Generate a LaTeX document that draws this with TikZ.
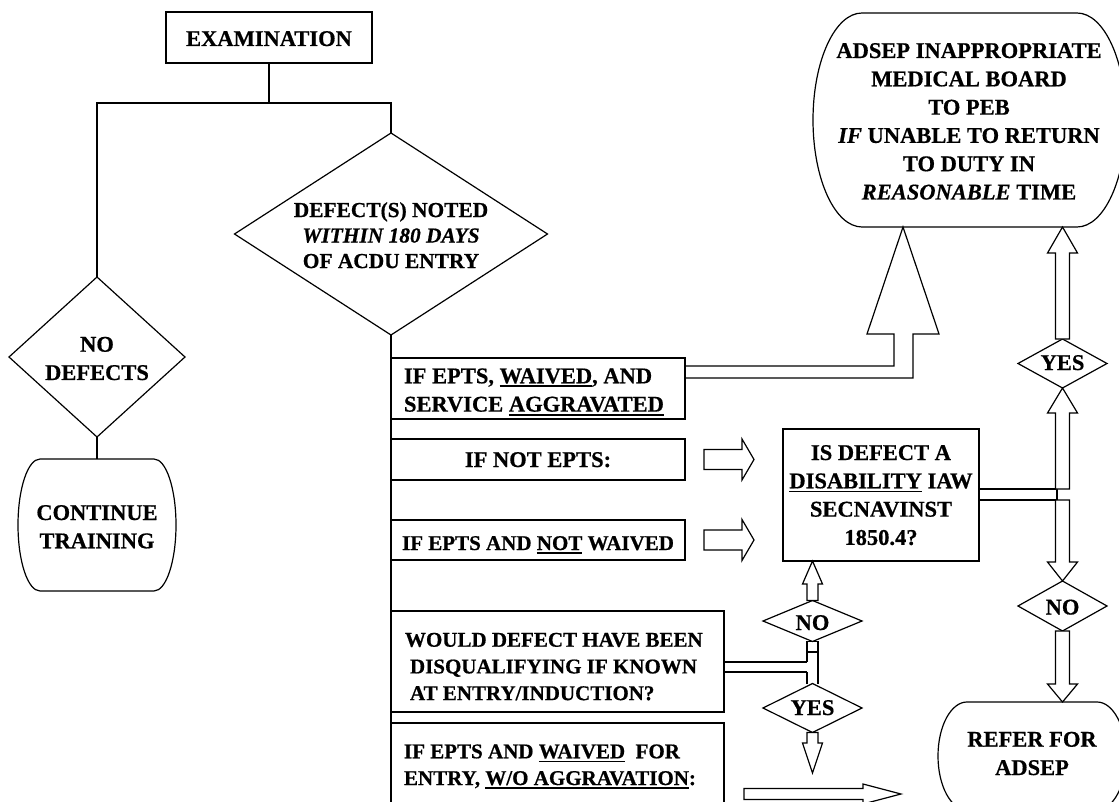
\documentclass[tikz,border=0pt]{standalone}
\usepackage{fontspec}
\setmainfont[FakeBold=0.6]{Liberation Serif}
\usetikzlibrary{shapes.geometric,calc}
\newsavebox{\ulbox}
\newcommand{\myul}[1]{\sbox{\ulbox}{#1}\rlap{\rule[-4pt]{\wd\ulbox}{1.8pt}}\usebox{\ulbox}}
\newcommand{\barrelshape}[5]{%
  \draw[blk] ({#1-#3+#5},{#2-#4}) -- ({#1+#3-#5},{#2-#4})
   .. controls ({#1+#3-#5+0.5523*#5},{#2-#4}) and ({#1+#3},{#2-0.5523*#4}) .. ({#1+#3},#2)
   .. controls ({#1+#3},{#2+0.5523*#4}) and ({#1+#3-#5+0.5523*#5},{#2+#4}) .. ({#1+#3-#5},{#2+#4})
   -- ({#1-#3+#5},{#2+#4})
   .. controls ({#1-#3+#5-0.5523*#5},{#2+#4}) and ({#1-#3},{#2+0.5523*#4}) .. ({#1-#3},#2)
   .. controls ({#1-#3},{#2-0.5523*#4}) and ({#1-#3+#5-0.5523*#5},{#2-#4}) .. ({#1-#3+#5},{#2-#4}) -- cycle;}
\newcommand{\vblock}[5]{\draw[blk] let \p1=(#1), \p2=(#2) in
  ({\x2-#3pt},\y1) -- ({\x2-#3pt},{\y2-(#5pt)}) -- ({\x2-#4pt},{\y2-(#5pt)}) -- (\x2,\y2)
  -- ({\x2+#4pt},{\y2-(#5pt)}) -- ({\x2+#3pt},{\y2-(#5pt)}) -- ({\x2+#3pt},\y1) -- cycle;}
\newcommand{\hblock}[5]{\draw[blk] let \p1=(#1), \p2=(#2) in
  (\x1,{\y2+#3pt}) -- ({\x2-#5pt},{\y2+#3pt}) -- ({\x2-#5pt},{\y2+#4pt}) -- (\x2,\y2)
  -- ({\x2-#5pt},{\y2-#4pt}) -- ({\x2-#5pt},{\y2-#3pt}) -- (\x1,{\y2-#3pt}) -- cycle;}
\tikzset{
  box/.style={draw, rectangle, inner sep=0pt, outer sep=0pt},
  dia/.style={draw, diamond, inner sep=0pt, outer sep=0pt},
  lbl/.style={inner sep=0pt, outer sep=0pt, align=center, font=\fontsize{22.5}{28.3}\selectfont\bfseries},
  lblsm/.style={lbl, font=\fontsize{21}{26.7}\selectfont\bfseries},
  blk/.style={draw, fill=white, line join=miter},
}
\begin{document}
\begin{tikzpicture}[x=1pt, y=-1pt, line width=1.2pt]
\useasboundingbox (0,0) rectangle (1119,802);
\clip (0,0) rectangle (1119,802);

% --- left branch
\node[box, minimum width=206pt, minimum height=51pt] (exam) at (269,37.5) {};
\node[lbl, anchor=base] (examtxt) at (269,46) {EXAMINATION};
\node[dia, minimum width=176pt, minimum height=160pt] (nod) at (97,357) {};
\node[lbl, anchor=north] (nodtxt) at (97,336.8) {NO\\DEFECTS};
\node[dia, minimum width=313pt, minimum height=202pt] (d1) at (391,234) {};
\node[lbl, anchor=north, font=\fontsize{21.4}{25.5}\selectfont\bfseries] (d1txt) at (391,202.2)
  {DEFECT(S) NOTED\\\textit{WITHIN 180 DAYS}\\OF ACDU ENTRY};
\barrelshape{97}{525}{79}{66}{22}
\coordinate (cont) at (97,525);
\coordinate (conttop) at (97,459);
\node[lbl, anchor=north] (conttxt) at (97,505.1) {CONTINUE\\TRAINING};

\coordinate (split) at (269,103);
\draw (exam.south) -- (split);
\draw (nod.north) |- (split) -| (d1.north);
\draw (nod.south) -- (conttop);
\coordinate (trunkend) at (391,830);
\draw (d1.south) -- (trunkend);

% --- condition boxes
\node[box, minimum width=294pt, minimum height=61pt] (b1) at (538,388.5) {};
\node[box, minimum width=294pt, minimum height=41pt] (b2) at (538,459.5) {};
\node[box, minimum width=294pt, minimum height=40pt] (b3) at (538,540) {};
\node[box, minimum width=333pt, minimum height=101pt] (b4) at (557.5,661.5) {};
\node[box, minimum width=333pt, minimum height=120pt] (b5) at (557.5,783) {};
\node[box, minimum width=196pt, minimum height=132pt] (isdef) at (881,495) {};

\node[lbl, anchor=north west, align=left] (b1txt) at (404,368.4)
  {IF EPTS, \myul{WAIVED}, AND\\SERVICE \myul{AGGRAVATED}};
\node[lbl, anchor=base] (b2txt) at (538,467) {IF NOT EPTS:};
\node[lblsm, anchor=base] (b3txt) at (538,550) {IF EPTS AND \myul{NOT} WAIVED};
\node[lblsm, anchor=north west, align=left] (b4txt) at (405,632.8)
  {WOULD DEFECT HAVE BEEN\\\hspace*{5pt}DISQUALIFYING IF KNOWN\\\hspace*{5pt}AT ENTRY/INDUCTION?};
\node[lblsm, anchor=north west, align=left] (b5txt) at (404,744.4)
  {IF EPTS AND \myul{WAIVED}\ \ FOR\\ENTRY, \myul{W/O AGGRAVATION}:};
\node[lbl, anchor=north] (isdeftxt) at (881,445.1)
  {IS DEFECT A\\\myul{DISABILITY} IAW\\SECNAVINST\\1850.4?};

% --- right outcomes
\barrelshape{969.5}{120}{156.5}{107}{49}
\coordinate (adsep) at (969.5,120);
\coordinate (adsepbot) at (1062.5,227);
\node[lbl, anchor=north] (adseptxt) at (969,43.1)
  {ADSEP INAPPROPRIATE\\MEDICAL BOARD\\TO PEB\\\textit{IF} UNABLE TO RETURN\\TO DUTY IN\\\textit{REASONABLE} TIME};
\barrelshape{1032}{756}{94}{54}{29}
\coordinate (refer) at (1032,756);
\coordinate (refertop) at (1062.5,702);
\node[lbl, anchor=north] (refertxt) at (1032,731.8) {REFER FOR\\ADSEP};

% --- decision diamonds
\node[dia, minimum width=89pt, minimum height=49pt] (yesR) at (1062.5,363.5) {};
\node[lbl, anchor=base] (yesRtxt) at (1062.5,370) {YES};
\node[dia, minimum width=89pt, minimum height=50pt] (noR) at (1062.5,606) {};
\node[lbl, anchor=base] (noRtxt) at (1062.5,614.5) {NO};
\node[dia, minimum width=99pt, minimum height=41pt] (noM) at (812.5,621) {};
\node[lbl, anchor=base] (noMtxt) at (812.5,630) {NO};
\node[dia, minimum width=99pt, minimum height=49pt] (yesM) at (812.5,708) {};
\node[lbl, anchor=base] (yesMtxt) at (812.5,715) {YES};

% --- block arrows
\draw (685,366) -- (894,366) -- (894,334) -- (867,334) -- (903,227) -- (939,334) -- (913,334) -- (913,378) -- (685,378);

\coordinate (tU) at (1062.5,489);
\coordinate (tD) at (1062.5,500);
\draw (isdef.east |- tU) -- (1055.5,489) (isdef.east |- tD) -- (1055.5,500) (1057,489) -- (1057,500);
\vblock{yesR.north}{adsepbot}{7}{15}{26}
\vblock{tU}{yesR.south}{7}{15}{25}
\vblock{tD}{noR.north}{7}{15}{-19}
\vblock{noR.south}{refertop}{7}{15}{-18}

\vblock{noM.north}{noM.north |- isdef.south}{5.5}{10}{23}
\draw (807,641.5) rectangle (818,652);
\draw (807,652) -- (807,662) (807,672) -- (807,683.5) (818,652) -- (818,683.5);
\draw (b4.east |- 0,662) -- (807,662) (b4.east |- 0,672) -- (807,672);
\coordinate (mtip) at (812.5,773);
\vblock{yesM.south}{mtip}{5.5}{10}{-30}

\coordinate (r1s) at (704,459.5); \coordinate (r1t) at (754,459.5);
\coordinate (r2s) at (704,540);   \coordinate (r2t) at (754,540);
\coordinate (r3s) at (744,794);   \coordinate (r3t) at (901,794);
\hblock{r1s}{r1t}{10}{20.5}{12}
\hblock{r2s}{r2t}{10}{20.5}{12}
\hblock{r3s}{r3t}{5.5}{10}{38}
\end{tikzpicture}
\end{document}
